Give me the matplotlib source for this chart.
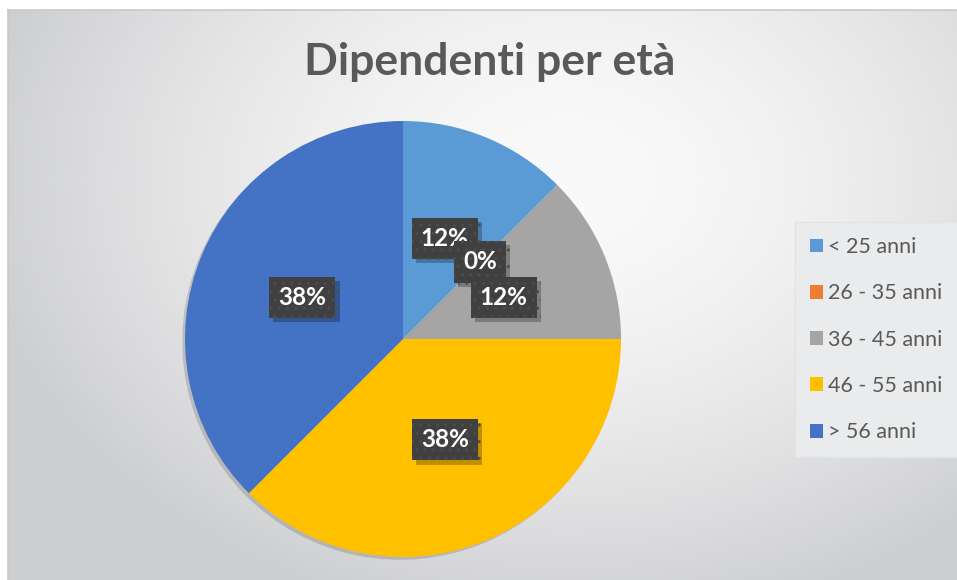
import numpy as np
import matplotlib
matplotlib.use("Agg")
import matplotlib.pyplot as plt
import matplotlib.patheffects as pe
from matplotlib.patches import Patch

plt.rcParams['font.family'] = ['Lato', 'DejaVu Sans']

# data
categories = ["< 25 anni", "26 - 35 anni", "36 - 45 anni", "46 - 55 anni", "> 56 anni"]
counts = [1, 0, 1, 3, 3]
colors = ["#5B9BD5", "#ED7D31", "#A5A5A5", "#FFC000", "#4472C4"]
title = "Dipendenti per età"

W, H = 957, 580
fig = plt.figure(figsize=(W / 100, H / 100), dpi=100, facecolor="white")

# chart area with radial gradient
bg = fig.add_axes([8 / W, 0, (W - 8) / W, (H - 10) / H])
bw, bh = W - 8, H - 10
yy, xx = np.mgrid[0:bh, 0:bw]
t = np.sqrt(((xx - 560) / 600.0) ** 2 + ((yy - 170) / 450.0) ** 2)
t = np.clip(t, 0, 1) ** 1.6
light = np.array([250, 250, 250]) / 255.0
dark = np.array([205, 206, 208]) / 255.0
img = light[None, None, :] + (dark - light)[None, None, :] * t[..., None]
bg.imshow(img, aspect="auto", extent=[0, bw, bh, 0], interpolation="bilinear")
bg.set_xticks([])
bg.set_yticks([])
for s in ["right", "bottom"]:
    bg.spines[s].set_visible(False)
for s in ["top", "left"]:
    bg.spines[s].set_color("#C9C9C9")
    bg.spines[s].set_linewidth(1.2)

# pie
cx, cy, r = 403, 339, 218
ax = fig.add_axes([(cx - r) / W, (H - cy - r) / H, 2 * r / W, 2 * r / H])
ax.set_facecolor("none")
wedges, texts, autotexts = ax.pie(
    counts, colors=colors, startangle=90, counterclock=False,
    autopct="%1.0f%%", pctdistance=0.5, radius=1,
    wedgeprops=dict(linewidth=0),
)
for w in wedges:
    w.set_path_effects([pe.SimplePatchShadow(offset=(-2, -2), alpha=0.15, shadow_rgbFace="black"),
                        pe.Normal()])
for at in autotexts:
    at.set_color("white")
    at.set_fontweight("bold")
    at.set_fontsize(17.5)
    at.set_bbox(dict(boxstyle="square,pad=0.38", fc="#404040", ec="#4C4C4C",
                     lw=0, hatch=".."))
    at.get_bbox_patch().set_path_effects([
        pe.SimplePatchShadow(offset=(3, -3), alpha=0.25, shadow_rgbFace="black"),
        pe.Normal()])
ax.set_xlim(-1, 1)
ax.set_ylim(-1, 1)
ax.axis("off")

# title
fig.text(489.5 / W, 1 - 62 / H, title, ha="center", va="center",
         fontsize=32, fontweight="bold", color="#595959")

# legend
handles = [Patch(facecolor=c, edgecolor="none") for c in colors]
leg = fig.legend(handles, categories, loc="upper left",
                 bbox_to_anchor=(795 / W, 1 - 222 / H), borderaxespad=0,
                 fontsize=15.5, frameon=True, fancybox=False,
                 handlelength=0.62, handleheight=0.62, handletextpad=0.22,
                 labelspacing=1.22, borderpad=0.7)
leg.get_frame().set_facecolor("#EAEBEC")
leg.get_frame().set_edgecolor("#E2E3E4")
leg.get_frame().set_alpha(1)
for txt in leg.get_texts():
    txt.set_color("#595959")

fig.savefig("out.png", dpi=100, facecolor="white")
